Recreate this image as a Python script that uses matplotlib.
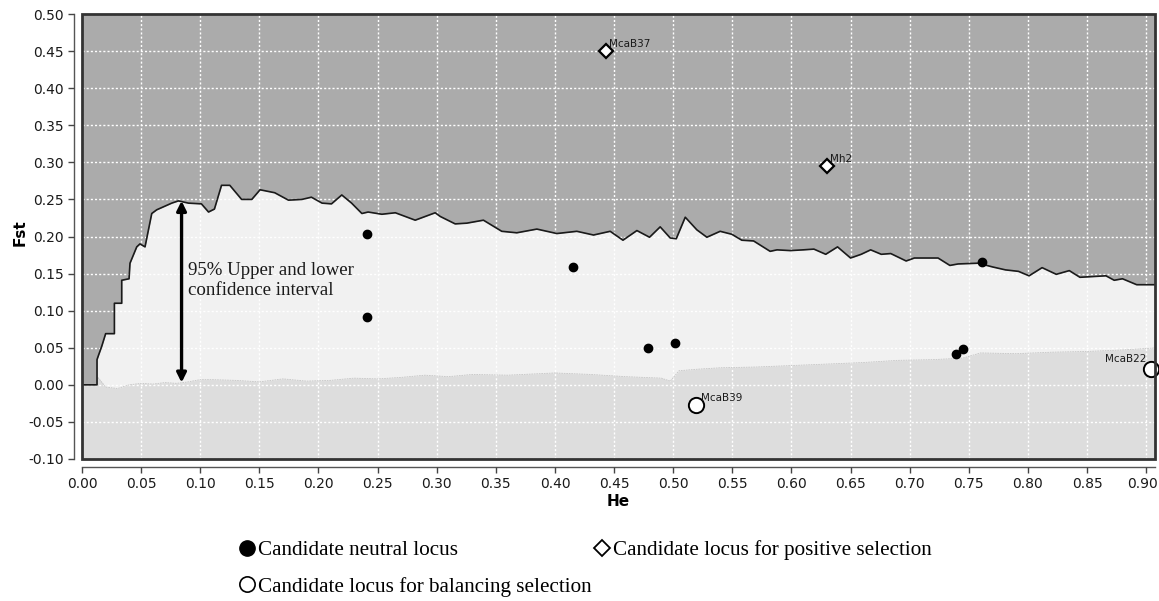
import numpy as np
import matplotlib

matplotlib.use("Agg")
import matplotlib.pyplot as plt
from matplotlib.lines import Line2D
from matplotlib.patches import Rectangle
from matplotlib.transforms import ScaledTranslation

# upper 95% limit (He, Fst)
he_up = [0.000, 0.0127, 0.0127, 0.0140, 0.0167, 0.020, 0.0274, 0.0274, 0.0336, 0.0336,
         0.0398, 0.0406, 0.0463, 0.049, 0.0533, 0.059, 0.0632, 0.0759, 0.0815, 0.090,
         0.101, 0.107, 0.112, 0.118, 0.125, 0.135, 0.1436, 0.1506, 0.163, 0.1746,
         0.186, 0.194, 0.203, 0.211, 0.2197, 0.228, 0.2367, 0.242, 0.2536, 0.265,
         0.2818, 0.2987, 0.303, 0.3156, 0.3255, 0.3395, 0.355, 0.3677, 0.3847, 0.4016,
         0.4185, 0.4326, 0.4467, 0.4575, 0.4693, 0.480, 0.489, 0.4975, 0.5026, 0.5102,
         0.520, 0.5285, 0.5397, 0.5496, 0.558, 0.568, 0.582, 0.5878, 0.599, 0.610,
         0.619, 0.629, 0.639, 0.650, 0.659, 0.667, 0.676, 0.684, 0.697, 0.704,
         0.724, 0.734, 0.741, 0.758, 0.770, 0.781, 0.792, 0.801, 0.812, 0.824,
         0.835, 0.844, 0.855, 0.866, 0.873, 0.880, 0.892, 0.910]
fst_up = [0.0, 0.0, 0.034, 0.040, 0.052, 0.069, 0.069, 0.110, 0.110, 0.141,
          0.143, 0.164, 0.186, 0.190, 0.186, 0.231, 0.236, 0.245, 0.248, 0.245,
          0.244, 0.233, 0.237, 0.269, 0.269, 0.250, 0.250, 0.263, 0.259, 0.249,
          0.250, 0.253, 0.245, 0.244, 0.256, 0.245, 0.231, 0.233, 0.230, 0.232,
          0.222, 0.232, 0.227, 0.217, 0.218, 0.222, 0.207, 0.205, 0.210, 0.204,
          0.207, 0.202, 0.207, 0.195, 0.208, 0.199, 0.213, 0.198, 0.197, 0.226,
          0.209, 0.199, 0.207, 0.203, 0.195, 0.194, 0.180, 0.182, 0.181, 0.182,
          0.183, 0.176, 0.186, 0.171, 0.176, 0.182, 0.176, 0.177, 0.167, 0.171,
          0.171, 0.161, 0.163, 0.164, 0.159, 0.155, 0.153, 0.147, 0.158, 0.149,
          0.154, 0.145, 0.146, 0.147, 0.141, 0.143, 0.135, 0.135]

# lower 95% limit (He, Fst)
he_lo = [0.0, 0.0127, 0.0135, 0.02, 0.03, 0.04, 0.05, 0.06, 0.07, 0.08,
         0.09, 0.10, 0.11, 0.13, 0.15, 0.17, 0.19, 0.21, 0.23, 0.25,
         0.27, 0.29, 0.31, 0.33, 0.36, 0.40, 0.43, 0.46, 0.49, 0.4975,
         0.505, 0.52, 0.54, 0.57, 0.60, 0.63, 0.66, 0.69, 0.72, 0.745,
         0.76, 0.79, 0.82, 0.85, 0.88, 0.910]
fst_lo = [0.0, 0.0, 0.010, -0.003, -0.005, 0.000, 0.002, 0.001, 0.003, 0.002,
          0.004, 0.007, 0.007, 0.006, 0.004, 0.008, 0.005, 0.006, 0.009, 0.008,
          0.010, 0.013, 0.011, 0.014, 0.013, 0.016, 0.014, 0.011, 0.009, 0.005,
          0.019, 0.021, 0.023, 0.024, 0.026, 0.028, 0.030, 0.033, 0.034, 0.036,
          0.043, 0.042, 0.044, 0.045, 0.047, 0.050]

neutral_he = [0.2407, 0.2407, 0.415, 0.479, 0.5017, 0.7608, 0.7395, 0.745]
neutral_fst = [0.204, 0.091, 0.159, 0.049, 0.057, 0.166, 0.042, 0.048]

pos_names = ["McaB37", "Mh2"]
pos_he = [0.443, 0.630]
pos_fst = [0.450, 0.295]

bal_names = ["McaB39", "McaB22"]
bal_he = [0.519, 0.904]
bal_fst = [-0.027, 0.022]

DARK, MID, LOW = "#ababab", "#f1f1f1", "#dddddd"
INK = "#1a1a1a"
SERIF = ["Liberation Serif", "DejaVu Serif"]

fig = plt.figure(figsize=(11.59, 6.01), dpi=100)
ax = fig.add_axes([82 / 1159, 1 - 459 / 601, 1073 / 1159, 445 / 601])
ax.set_facecolor(MID)
ax.fill_between(he_up, fst_up, 0.5, color=DARK, lw=0, zorder=1)
ax.fill_between(he_lo, fst_lo, -0.1, color=LOW, lw=0, zorder=1)
ax.plot(he_lo, fst_lo, color="#c4c4c4", lw=0.6, ls=(0, (2, 1)), zorder=3)
ax.plot(he_up, fst_up, color=INK, lw=1.2, zorder=3)

ax.set_xlim(0, 0.9075)
ax.set_ylim(-0.10, 0.50)
ax.set_xticks(np.arange(0, 0.901, 0.05))
ax.set_yticks(np.arange(-0.10, 0.501, 0.05))
ax.xaxis.set_major_formatter(matplotlib.ticker.FormatStrFormatter("%.2f"))
ax.yaxis.set_major_formatter(matplotlib.ticker.FormatStrFormatter("%.2f"))
ax.set_axisbelow(False)
ax.grid(color="white", ls=(0, (1.5, 1.5)), lw=1.0)
ax.tick_params(labelsize=10, length=4, width=1, color="#444", labelcolor=INK, pad=3)
for side in ("top", "right"):
    ax.spines[side].set_visible(False)
for side in ("left", "bottom"):
    ax.spines[side].set_position(("outward", 6))
    ax.spines[side].set_color("#555")
    ax.spines[side].set_linewidth(1.0)
ax.add_patch(Rectangle((0, 0), 1, 1, transform=ax.transAxes, fill=False,
                       ec="#333", lw=2.0, clip_on=False, zorder=6))
# keep the last tick label inside the canvas
last = ax.get_xticklabels()[-1]
last.set_transform(last.get_transform() + ScaledTranslation(-4 / 100, 0, fig.dpi_scale_trans))

ax.plot(neutral_he, neutral_fst, "o", ms=6, color="black", zorder=5)
ax.plot(pos_he, pos_fst, "D", ms=7, mfc="white", mec="black", mew=1.6, zorder=5)
ax.plot(bal_he, bal_fst, "o", ms=11, mfc="white", mec="black", mew=1.4, zorder=5,
        clip_on=False)
for n, x, y in zip(pos_names, pos_he, pos_fst):
    ax.annotate(n, (x, y), xytext=(2, 3), textcoords="offset points",
                fontsize=7.5, color=INK, zorder=6)
ax.annotate(bal_names[0], (bal_he[0], bal_fst[0]), xytext=(4, 3),
            textcoords="offset points", fontsize=7.5, color=INK, zorder=6)
ax.annotate(bal_names[1], (bal_he[1], bal_fst[1]), xytext=(-3, 5),
            textcoords="offset points", fontsize=7.5, color=INK, ha="right", zorder=6)

ax.annotate("", xy=(0.0842, 0.248), xytext=(0.0842, 0.003),
            arrowprops=dict(arrowstyle="<|-|>", color="black", lw=2.4,
                            mutation_scale=14, shrinkA=0, shrinkB=0), zorder=6)
ax.text(0.090, 0.141, "95% Upper and lower\nconfidence interval", family=SERIF,
        fontsize=13.6, color=INK, va="center", linespacing=1.2, zorder=6)

ax.set_ylabel("Fst", fontsize=11, fontweight="bold")
ax.yaxis.set_label_coords(-0.051, 0.508)
ax.set_xlabel("He", fontsize=11, fontweight="bold", labelpad=2)

handles = [
    Line2D([], [], ls="none", marker="o", ms=11, color="black"),
    Line2D([], [], ls="none", marker="o", ms=11, mfc="white", mec="black", mew=1.2),
    Line2D([], [], ls="none", marker="D", ms=8, mfc="white", mec="black", mew=1.3),
]
labels = ["Candidate neutral locus", "Candidate locus for balancing selection",
          "Candidate locus for positive selection"]
fig.legend(handles, labels, loc="upper left", bbox_to_anchor=(239 / 1159, 1 - 540 / 601),
           ncol=2, frameon=False, prop={"family": SERIF, "size": 15.2},
           handlelength=0.75, handletextpad=0.15, columnspacing=0.1,
           labelspacing=0.8, borderpad=0, borderaxespad=0)

fig.savefig("out.png", dpi=100)
